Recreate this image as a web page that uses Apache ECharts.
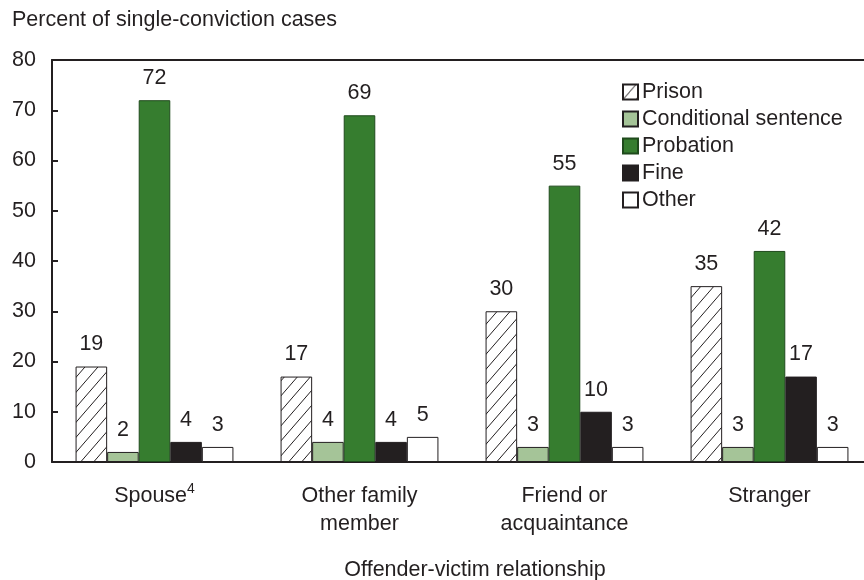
<!DOCTYPE html>
<html>
<head>
<meta charset="utf-8">
<script src="https://cdn.jsdelivr.net/npm/echarts@6/dist/echarts.min.js"></script>
<style>
  html, body { margin: 0; padding: 0; background: #fff; overflow: hidden; }
  /* the plot runs a few pixels past the right edge of the window */
  #chart { width: 872px; height: 580px; }
</style>
</head>
<body>
<div id="chart"></div>
<script>
// Offender-victim relationship groups
const categories = ['Spouse', 'Other family\nmember', 'Friend or\nacquaintance', 'Stranger'];

// Sentence type shares (percent of single-conviction cases)
const prison = [19, 17, 30, 35];
const conditional = [2, 4, 3, 3];
const probation = [72, 69, 55, 42];
const fine = [4, 4, 10, 17];
const other = [3, 5, 3, 3];

const yTicks = [0, 10, 20, 30, 40, 50, 60, 70, 80];

const INK = '#231f20';
const FONT = '"Liberation Sans", Arial, Helvetica, sans-serif';
const FS = 21.5;

// Diagonal hatch tile used for the Prison bars
function hatchTile() {
  const w = 13, h = 15;
  const c = document.createElement('canvas');
  c.width = w; c.height = h;
  const g = c.getContext('2d');
  g.fillStyle = '#fff';
  g.fillRect(0, 0, w, h);
  g.strokeStyle = INK;
  g.lineWidth = 1;
  for (const dx of [-w, 0, w]) {
    g.beginPath();
    g.moveTo(dx, h);
    g.lineTo(dx + w, 0);
    g.stroke();
  }
  return c;
}

const valueLabel = {
  show: true,
  position: 'top',
  distance: 11,
  color: INK,
  fontFamily: FONT,
  fontSize: FS
};

function bar(name, data, fill, border) {
  return {
    name: name,
    type: 'bar',
    data: data,
    barWidth: '15.4%',
    barGap: '0%',
    itemStyle: { color: fill, borderColor: border || INK, borderWidth: 1 },
    label: valueLabel,
    emphasis: { disabled: true }
  };
}

const chart = echarts.init(document.getElementById('chart'), null, { renderer: 'canvas' });

chart.setOption({
  animation: false,
  backgroundColor: '#fff',
  textStyle: { fontFamily: FONT, color: INK },
  title: {
    text: 'Percent of single-conviction cases',
    left: 7,
    top: 4,
    textStyle: { fontFamily: FONT, fontSize: FS, fontWeight: 'normal', color: INK }
  },
  graphic: [{
    type: 'text',
    x: 475,
    y: 570,
    style: {
      text: 'Offender-victim relationship',
      fontFamily: FONT,
      fontSize: FS,
      fill: INK,
      textAlign: 'center',
      textVerticalAlign: 'middle'
    }
  }],
  legend: {
    orient: 'vertical',
    left: 622,
    top: 81,
    padding: 0,
    itemWidth: 15,
    itemHeight: 15,
    itemGap: 5,
    icon: 'rect',
    textStyle: { fontFamily: FONT, fontSize: FS, color: INK, padding: [0, 0, 0, -1] },
    data: ['Prison', 'Conditional sentence', 'Probation', 'Fine', 'Other']
  },
  grid: { left: 52, right: 0, top: 60, bottom: 118, containLabel: false },
  xAxis: [{
    type: 'category',
    data: categories,
    axisLine: { show: true, lineStyle: { color: INK, width: 2 } },
    axisTick: { show: false },
    axisLabel: {
      margin: 20,
      color: INK,
      fontFamily: FONT,
      fontSize: FS,
      lineHeight: 28,
      formatter: function (v, i) {
        return i === 0 ? '{a|Spouse}{s|4}' : v;
      },
      rich: {
        a: { fontFamily: FONT, fontSize: FS, color: INK, lineHeight: 28 },
        s: { fontFamily: FONT, fontSize: 14, color: INK, lineHeight: 28, verticalAlign: 'top', padding: [0, 0, 3, 0] }
      }
    }
  }, {
    // top frame line of the plot
    type: 'category',
    position: 'top',
    data: categories,
    axisLine: { show: true, lineStyle: { color: INK, width: 2 } },
    axisTick: { show: false },
    axisLabel: { show: false }
  }],
  yAxis: {
    type: 'value',
    min: yTicks[0],
    max: yTicks[yTicks.length - 1],
    interval: 10,
    axisLine: { show: true, lineStyle: { color: INK, width: 2 } },
    axisTick: { show: true, inside: true, length: 6, lineStyle: { color: INK, width: 2 } },
    splitLine: { show: false },
    axisLabel: { margin: 16, color: INK, fontFamily: FONT, fontSize: FS }
  },
  series: [
    bar('Prison', prison, { image: hatchTile(), repeat: 'repeat' }),
    bar('Conditional sentence', conditional, '#a5c498'),
    bar('Probation', probation, '#367d2f', '#1f4a1c'),
    bar('Fine', fine, INK),
    bar('Other', other, '#ffffff')
  ]
});
</script>
</body>
</html>
